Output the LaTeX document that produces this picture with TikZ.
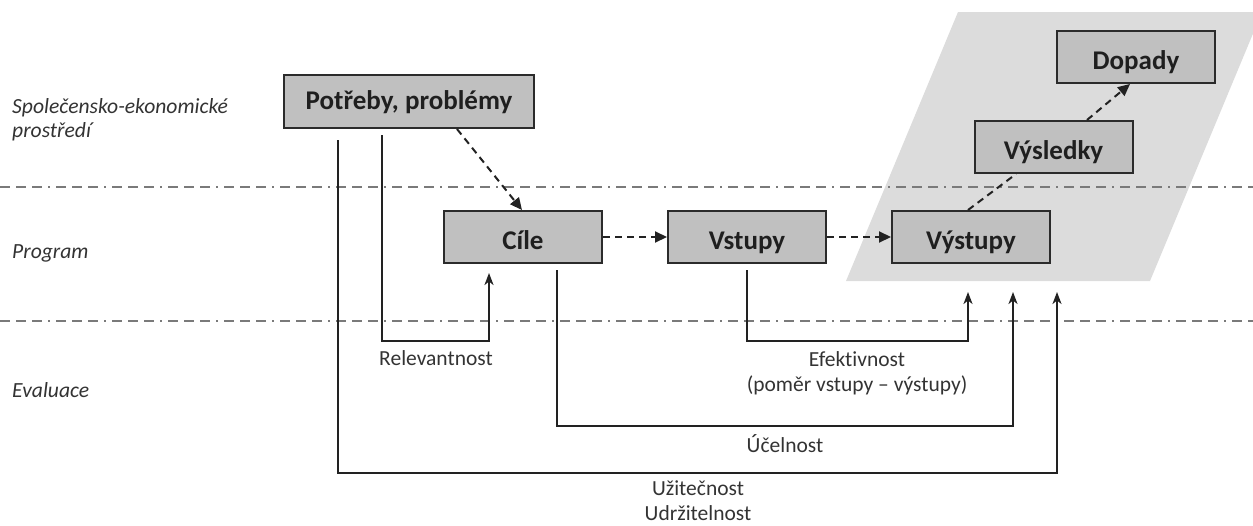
\documentclass[tikz,border=0pt]{standalone}
\usepackage{fontspec}
\setmainfont{Carlito}[Ligatures=NoCommon]
\usetikzlibrary{arrows.meta,calc}
\definecolor{boxfill}{HTML}{C0C0C0}
\definecolor{boxline}{HTML}{2B2B2B}
\definecolor{zone}{HTML}{DCDCDC}
\definecolor{sepcol}{HTML}{7A7A7A}
\definecolor{txtcol}{HTML}{333333}
\definecolor{linecol}{HTML}{222222}
\begin{document}
\begin{tikzpicture}[x=1pt,y=-1pt,
  stagebox/.style={draw=boxline,line width=2pt,fill=boxfill,minimum width=158pt,minimum height=52pt,inner sep=0pt,
    font=\fontsize{27}{30}\selectfont\bfseries,text=black!88,text height=26pt,text depth=2pt},
  bigbox/.style={stagebox,minimum width=250pt,minimum height=53pt,text height=22pt,text depth=6pt},
  sepline/.style={draw=sepcol,line width=1.5pt,dash pattern=on 10pt off 6pt on 10pt off 6pt on 10pt off 6pt on 2pt off 6pt},
  flow/.style={draw=linecol,line width=2pt,dash pattern=on 7pt off 5pt,-{Triangle[length=12pt,width=11pt]}},
  flowplain/.style={draw=linecol,line width=2pt,dash pattern=on 7pt off 5pt},
  evalarrow/.style={draw=linecol,line width=2pt,-{Stealth[length=12pt,width=9pt,inset=3.5pt]}},
  lbl/.style={inner sep=0pt,text=txtcol,font=\fontsize{21.5}{25}\selectfont,align=center},
  side/.style={inner sep=0pt,text=txtcol,font=\fontsize{21.6}{24}\selectfont\itshape,align=left,anchor=base west}]
\useasboundingbox (0,0) rectangle (1253,525);
\begin{scope}
  \clip (0,0) rectangle (1253,525);
  \fill[zone] (846,281) -- (1150,281) -- (1262,12) -- (958,12) -- cycle;
\end{scope}
\draw[sepline] (0,187) -- (1253,187);
\draw[sepline] (0,321) -- (1253,321);

\node[side] (lenv) at (12,137) {Společensko-ekonomické\\prostředí};
\node[side] (lprog) at (12,258) {Program};
\node[side] (leval) at (12,397) {Evaluace};

\node[bigbox] (potreby) at (409,101.5) {Potřeby, problémy};
\node[stagebox] (cile) at (523,237) {Cíle};
\node[stagebox] (vstupy) at (747,237) {Vstupy};
\node[stagebox] (vystupy) at (971,237) {Výstupy};
\node[stagebox] (vysledky) at (1053.5,147) {Výsledky};
\node[stagebox] (dopady) at (1136,57) {Dopady};

\draw[flow] ([xshift=48pt]potreby.south) -- ([xshift=-1pt]cile.north);
\draw[flow] (cile.east) -- (vstupy.west);
\draw[flow] (vstupy.east) -- (vystupy.west);
\draw[flowplain] ([xshift=-3pt]vystupy.north) -- ([xshift=-37.5pt]vysledky.south);
\draw[flow] ([xshift=33.5pt]vysledky.north) -- ([xshift=-6pt]dopady.south);

\draw[evalarrow] ([xshift=-27pt,yshift=-6pt]potreby.south) -- ++(0,206) -| ([xshift=-34pt,yshift=-9pt]cile.south);
\draw[evalarrow] ([xshift=-71pt,yshift=-11pt]potreby.south) -- ++(0,333) -| ([xshift=86pt,yshift=-28pt]vystupy.south);
\draw[evalarrow] ([xshift=34pt,yshift=-6pt]cile.south) -- ++(0,156) -| ([xshift=42pt,yshift=-28pt]vystupy.south);
\draw[evalarrow] ([yshift=-6pt]vstupy.south) -- ++(0,71) -| ([xshift=-3pt,yshift=-28pt]vystupy.south);

\node[lbl,anchor=base] (lrel) at (436,365) {Relevantnost};
\node[lbl,anchor=base] (lefek) at (857,391) {Efektivnost\\(poměr vstupy – výstupy)};
\node[lbl,anchor=base] (lucel) at (785,452) {Účelnost};
\node[lbl,anchor=base] (luzit) at (698,520) {Užitečnost\\Udržitelnost};
\end{tikzpicture}
\end{document}
